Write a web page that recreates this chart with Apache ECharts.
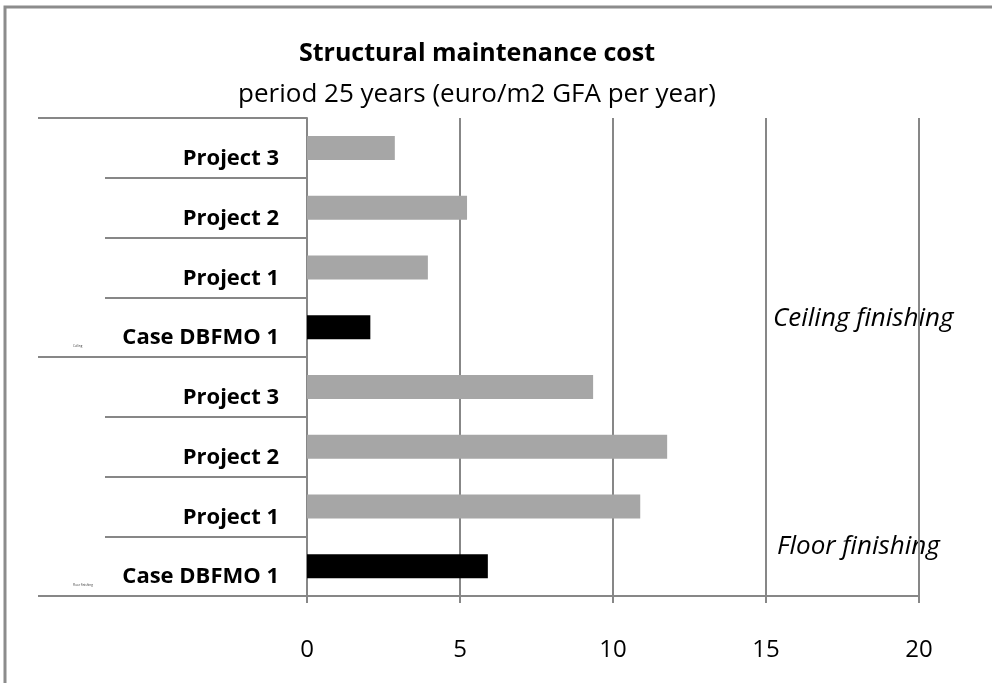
<!DOCTYPE html>
<html>
<head>
<meta charset="utf-8">
<script src="https://cdn.jsdelivr.net/npm/echarts@6/dist/echarts.min.js"></script>
<style>
  * { margin: 0; padding: 0; }
  #chart-container { width: 992px; height: 683px; background: #fff; }
</style>
</head>
<body>
<div id="chart-container"></div>
<script>
  // bottom to top, as in the picture
  var categories = ['Case DBFMO 1', 'Project 1', 'Project 2', 'Project 3',
                    'Case DBFMO 1', 'Project 1', 'Project 2', 'Project 3']
  var costs = [5.91, 10.89, 11.77, 9.35, 2.07, 3.95, 5.23, 2.87]
  var groups = ['Floor finishing', 'Ceiling']
  var groupNotes = ['Floor finishing', 'Ceiling finishing']
  var xTicks = [0, 5, 10, 15, 20]

  var FONT = '"Open Sans", sans-serif'
  var LINE = '#878787'

  var myChart = echarts.init(document.getElementById('chart-container'), null, {
    renderer: 'canvas'
  })

  var option = {
    backgroundColor: '#fff',
    animation: false,
    title: {
      text: 'Structural maintenance cost',
      subtext: 'period 25 years (euro/m2 GFA per year)',
      left: 472,
      top: 36,
      textAlign: 'center',
      itemGap: 16,
      textStyle: { fontFamily: FONT, fontSize: 25, fontWeight: 'bold', color: '#000' },
      subtextStyle: { fontFamily: FONT, fontSize: 26, color: '#000' }
    },
    grid: { left: 307, right: 73, top: 118, bottom: 87 },
    xAxis: {
      type: 'value',
      min: xTicks[0],
      max: xTicks[xTicks.length - 1],
      interval: 5,
      axisLine: { show: true, lineStyle: { color: LINE, width: 2 } },
      axisTick: { show: true, length: 7, lineStyle: { color: LINE, width: 2 } },
      axisLabel: { margin: 42, fontFamily: FONT, fontSize: 24, color: '#000' },
      splitLine: { show: true, lineStyle: { color: LINE, width: 2 } }
    },
    yAxis: [
      {
        type: 'category',
        data: categories,
        axisLine: { show: true, lineStyle: { color: LINE, width: 2 } },
        axisTick: { show: true, length: 202, lineStyle: { color: LINE, width: 2 } },
        axisLabel: {
          margin: 28,
          fontFamily: FONT,
          fontSize: 22,
          fontWeight: 'bold',
          color: '#000',
          verticalAlign: 'top',
          lineHeight: 22
        }
      },
      {
        type: 'category',
        position: 'left',
        data: groups,
        axisLine: { show: false },
        axisTick: { show: true, length: 269, lineStyle: { color: LINE, width: 2 } },
        axisLabel: {
          margin: 234,
          align: 'left',
          verticalAlign: 'top',
          padding: [107, 0, 0, 0],
          fontFamily: FONT,
          fontSize: 3,
          color: '#333'
        }
      }
    ],
    graphic: [
      {
        type: 'rect',
        shape: { x: 5, y: 7, width: 1200, height: 1000 },
        style: { fill: 'none', stroke: '#8c8c8c', lineWidth: 3 },
        silent: true
      },
      {
        type: 'text',
        left: 773,
        top: 306,
        style: { text: groupNotes[1], font: 'italic 26px ' + FONT, fill: '#000' }
      },
      {
        type: 'text',
        left: 777,
        top: 534,
        style: { text: groupNotes[0], font: 'italic 26px ' + FONT, fill: '#000' }
      }
    ],
    series: [
      {
        type: 'bar',
        yAxisIndex: 0,
        barWidth: 24,
        data: costs.map(function (v, i) {
          return {
            value: v,
            itemStyle: { color: categories[i].indexOf('Case') === 0 ? '#000000' : '#a6a6a6' }
          }
        })
      }
    ]
  }

  myChart.setOption(option)
  window.addEventListener('resize', myChart.resize)
</script>
</body>
</html>
